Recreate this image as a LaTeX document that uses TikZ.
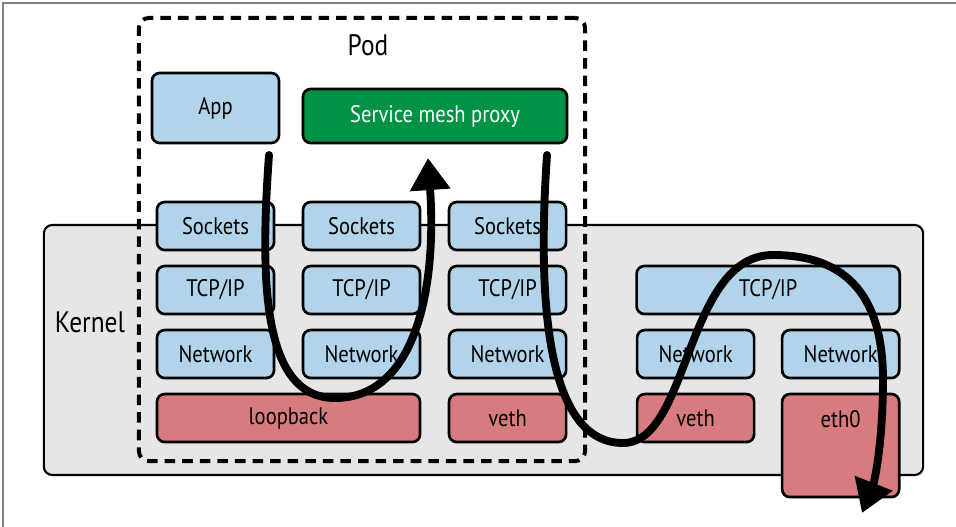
\documentclass[tikz,border=0pt]{standalone}
\usepackage{fontspec}
\setmainfont{PT Sans}[FakeStretch=0.86]
\usepackage{tikz}
\usetikzlibrary{arrows.meta,calc,positioning}
\definecolor{stackblue}{RGB}{178,212,235}
\definecolor{ifacered}{RGB}{216,123,127}
\definecolor{proxygreen}{RGB}{0,146,69}
\definecolor{kernelgray}{RGB}{230,230,230}
\tikzset{
        txt/.style = {font=\fontsize{17}{19}\selectfont},
        block/.style = {draw, rectangle, rounded corners=5.5pt,
            line width=1.9pt, outer sep=0pt, fill=stackblue, txt,
            minimum height=1.2cm,
            minimum width=2.925cm},
        iface/.style = {block, fill=ifacered},
        title/.style = {font=\fontsize{21}{25}\selectfont},
        kernelbox/.style = {draw, rectangle, rounded corners=6pt,
            line width=1.5pt, fill=kernelgray},
        podbox/.style = {draw, rectangle, rounded corners=7pt,
            line width=2.8pt, dash pattern=on 7.5pt off 5pt},
        flow/.style = {draw, line width=5.6pt, line cap=round,
            -{Triangle[length=0.8cm,width=0.97cm]}},
    }

\begin{document}
\begin{tikzpicture}[x=0.025cm, y=-0.025cm, node distance=0.4cm and 0.725cm]
  \useasboundingbox (0,0) rectangle (956,527);
  \draw[gray, line width=0.8pt] (3,527) -- (3,3) -- (956,3);

  % kernel and pod
  \node[kernelbox, minimum width=21.975cm, minimum height=6.25cm] (k) at (483.5,350) {};
  \node[title] (kl) at (90,322) {Kernel};
  \node[podbox, minimum width=11.15cm, minimum height=11.075cm] (pod) at (362,239.5) {};
  \node[title] (pl) at (368,45) {Pod};

  % user space
  \node[block, minimum width=3.175cm, minimum height=1.75cm] (app) at (215.5,108) {App};
  \node[block, fill=proxygreen, text=white, minimum width=6.6cm,
        minimum height=1.35cm] (px) at (435,116) {Service mesh proxy};

  % pod side stacks
  \node[block] (s1) at (215.5,226) {Sockets};
  \node[block, right=of s1] (s2) {Sockets};
  \node[block, right=of s2] (s3) {Sockets};
  \node[block, below=of s1] (t1) {TCP/IP};
  \node[block, below=of s2] (t2) {TCP/IP};
  \node[block, below=of s3] (t3) {TCP/IP};
  \node[block, below=of t1] (n1) {Network};
  \node[block, below=of t2] (n2) {Network};
  \node[block, below=of t3] (n3) {Network};
  \coordinate (lm) at ($(n1.south)!0.5!(n2.south)$);
  \node[iface, minimum width=6.575cm, below=of lm] (lo) {loopback};
  \node[iface, below=of n3] (v1) {veth};

  % host side stack
  \node[block, right=1.775cm of n3] (n4) {Network};
  \node[block, right=0.7cm of n4] (n5) {Network};
  \coordinate (hm) at ($(n4.north)!0.5!(n5.north)$);
  \node[block, minimum width=6.575cm, above=of hm] (t4) {TCP/IP};
  \node[iface, below=of n4] (v2) {veth};
  \node[iface, minimum height=2.575cm, below=of n5] (e) {};
  \node[txt] (el) at ($(e.north)+(0,25)$) {eth0};

  % packet paths
  \coordinate (a0) at (269,155);
  \coordinate (a1) at (428,158);
  \coordinate (b0) at (547,155);
  \coordinate (b1) at (862,513);
  \draw[flow] (a0) .. controls (260,280) and (262,398) .. (335,398)
                   .. controls (415,398) and (437,290) .. (a1);
  \draw[flow] (b0) .. controls (535,330) and (555,443) .. (623,443)
                   .. controls (690,443) and (685,255) .. (773,255)
                   .. controls (850,255) and (883,300) .. (883,380)
                   .. controls (883,440) and (875,480) .. (b1);
\end{tikzpicture}
\end{document}
